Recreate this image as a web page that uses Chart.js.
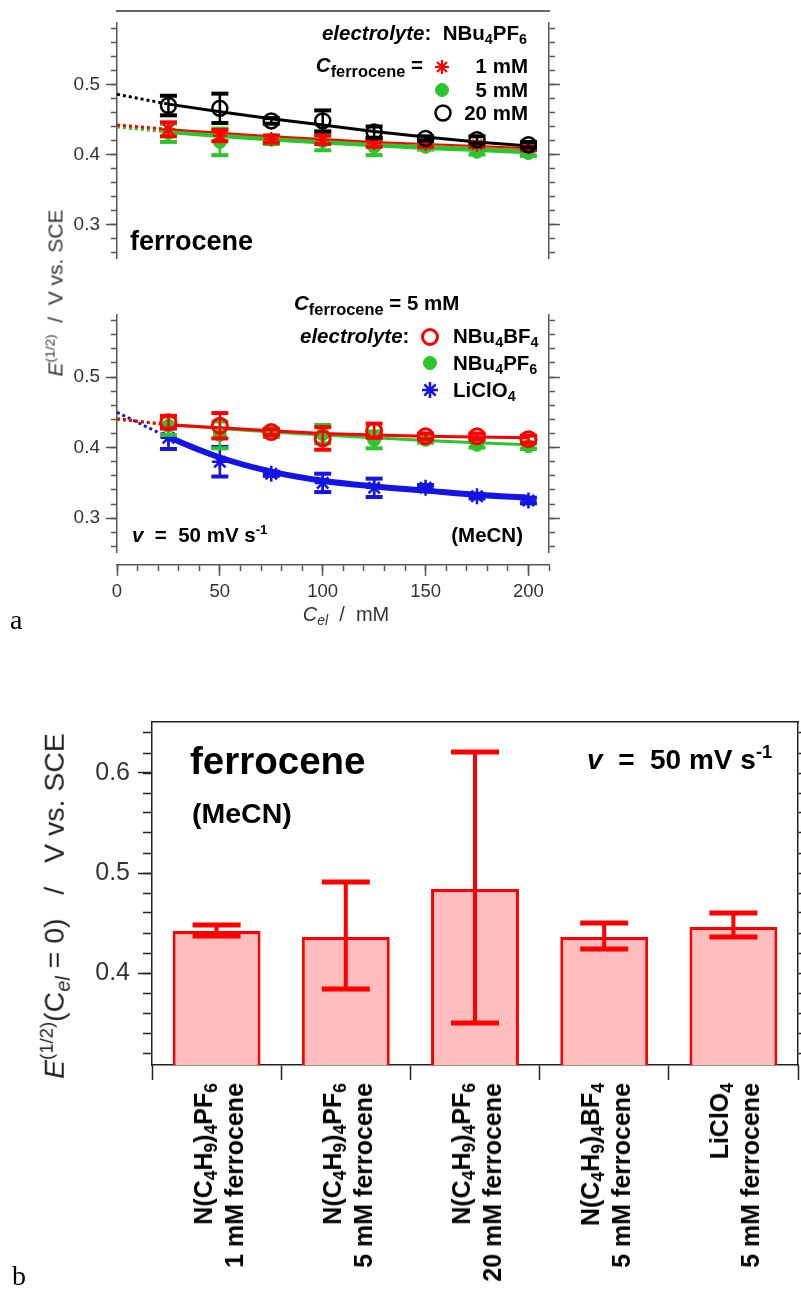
<!DOCTYPE html>
<html>
<head>
<meta charset="utf-8">
<title>Ferrocene half-wave potentials</title>
<script src="https://cdn.jsdelivr.net/npm/chart.js@4.4.1/dist/chart.umd.min.js"></script>
<style>
  body { margin: 0; background: #fff; }
  #figure { position: relative; width: 801px; height: 1289px; overflow: hidden;
            font-family: "Liberation Sans", Arial, sans-serif; }
  #figure canvas { position: absolute; }
  .txt { position: absolute; white-space: nowrap; line-height: 1; color: #000; font-weight: bold; }
  .txt sub { font-size: 70%; vertical-align: -0.28em; line-height: 0; }
  .txt sup { font-size: 65%; vertical-align: 0.6em; line-height: 0; }
  .txt sub.big { font-size: 80%; }
  .cat { text-align: right; line-height: 31px; transform-origin: 0 0; }
</style>
</head>
<body>
<div id="figure">
  <canvas id="panel-a-top" width="560" height="275" style="left:0;top:0"></canvas>
  <canvas id="panel-a-bottom" width="560" height="345" style="left:0;top:290px"></canvas>
  <canvas id="panel-b" width="801" height="589" style="left:0;top:700px"></canvas>
</div>
<script>
// ---------- Panel a: E(1/2) vs electrolyte concentration ----------
const celValues = [25, 50, 75, 100, 125, 150, 175, 200];      // C_el / mM
const fitCel = [0, 25, 50, 75, 100, 125, 150, 175, 200];       // fit curves incl. extrapolation to 0

// top: NBu4PF6 electrolyte, 1 / 5 / 20 mM ferrocene
const pf6Fc1 = [0.436, 0.427, 0.422, 0.421, 0.416, 0.415, 0.414, 0.410];
const pf6Fc1Err = [0.010, 0.008, 0.005, 0.006, 0.005, 0.004, 0.003, 0.004];
const pf6Fc5 = [0.431, 0.418, 0.421, 0.419, 0.411, 0.411, 0.404, 0.402];
const pf6Fc5Err = [0.013, 0.019, 0.006, 0.013, 0.012, 0.004, 0.004, 0.004];
const pf6Fc20 = [0.470, 0.466, 0.448, 0.448, 0.432, 0.423, 0.421, 0.414];
const pf6Fc20Err = [0.014, 0.021, 0.004, 0.015, 0.008, 0.003, 0.005, 0.004];
const pf6Fc1Fit = [0.442, 0.436, 0.431, 0.426, 0.422, 0.418, 0.415, 0.412, 0.409];
const pf6Fc5Fit = [0.440, 0.433, 0.427, 0.422, 0.418, 0.414, 0.410, 0.407, 0.404];
const pf6Fc20Fit = [0.486, 0.472, 0.461, 0.451, 0.442, 0.433, 0.425, 0.418, 0.412];

// bottom: 5 mM ferrocene, NBu4BF4 / NBu4PF6 / LiClO4
const bf4Fc5 = [0.436, 0.431, 0.422, 0.413, 0.424, 0.416, 0.416, 0.412];
const bf4Fc5Err = [0.009, 0.018, 0.004, 0.016, 0.010, 0.004, 0.004, 0.005];
const clo4Fc5 = [0.414, 0.380, 0.363, 0.350, 0.343, 0.343, 0.331, 0.325];
const clo4Fc5Err = [0.016, 0.021, 0.003, 0.013, 0.013, 0.004, 0.003, 0.004];
const bf4Fc5Fit = [0.441, 0.432, 0.428, 0.424, 0.420, 0.418, 0.416, 0.415, 0.414];
const clo4Fc5Fit = [0.450, 0.415, 0.386, 0.366, 0.353, 0.345, 0.339, 0.333, 0.329];

// ---------- Panel b: extrapolated E(1/2) at C_el = 0 ----------
const barElectrolytes = [
    'N(C<sub>4</sub>H<sub>9</sub>)<sub>4</sub>PF<sub>6</sub>',
    'N(C<sub>4</sub>H<sub>9</sub>)<sub>4</sub>PF<sub>6</sub>',
    'N(C<sub>4</sub>H<sub>9</sub>)<sub>4</sub>PF<sub>6</sub>',
    'N(C<sub>4</sub>H<sub>9</sub>)<sub>4</sub>BF<sub>4</sub>',
    'LiClO<sub>4</sub>'
];
const barFerrocene = ['1 mM ferrocene', '5 mM ferrocene', '20 mM ferrocene', '5 mM ferrocene', '5 mM ferrocene'];
const barE0 = [0.442, 0.436, 0.484, 0.436, 0.446];
const barE0Low = [0.437, 0.384, 0.350, 0.424, 0.436];
const barE0High = [0.448, 0.491, 0.621, 0.450, 0.460];

// axis ranges
const X_MAX = 210;
const YA_MIN = 0.252, YA_MAX = 0.588;
const YB_MIN = 0.308, YB_MAX = 0.651;

// colours / fonts
const RED = '#ff0000';
const GREEN = '#2cc62c';
const BLUE = '#1414e6';
const BLACK = '#000000';
const AXIS = '#555555';
const FRAME = '#222222';
const FONT = '"Liberation Sans", Arial, sans-serif';
const SERIF = '"Liberation Serif", "Times New Roman", serif';
const FIG_W = 801;

/**
 * Draws vertical error bars for datasets that carry an errorBars object
 */
const errorBarPlugin = {
    id: 'errorBars',
    afterDatasetDraw(chart, args) {
        const ds = chart.data.datasets[args.index];
        if (!ds.errorBars) return;
        const eb = ds.errorBars;
        const yScale = chart.scales[args.meta.yAxisID];
        const ctx = chart.ctx;
        ctx.save();
        ctx.strokeStyle = eb.color;
        args.meta.data.forEach((el, i) => {
            const yLo = yScale.getPixelForValue(eb.lo[i]);
            const yHi = yScale.getPixelForValue(eb.hi[i]);
            ctx.lineWidth = eb.lineWidth;
            ctx.beginPath();
            ctx.moveTo(el.x, yLo);
            ctx.lineTo(el.x, yHi);
            ctx.stroke();
            ctx.lineWidth = eb.capLineWidth;
            [yLo, yHi].forEach(y => {
                ctx.beginPath();
                ctx.moveTo(el.x - eb.capWidth / 2, y);
                ctx.lineTo(el.x + eb.capWidth / 2, y);
                ctx.stroke();
            });
        });
        ctx.restore();
    }
};

/**
 * Draws legend symbols using the point style of the referenced dataset
 */
const legendSymbolPlugin = {
    id: 'legendSymbols',
    afterDraw(chart, args, opts) {
        const ctx = chart.ctx;
        (opts.items || []).forEach(item => {
            const ds = chart.data.datasets.find(d => d.label === item.label);
            if (!ds) return;
            ctx.save();
            ctx.fillStyle = ds.pointBackgroundColor;
            ctx.strokeStyle = ds.pointBorderColor;
            ctx.lineWidth = ds.pointBorderWidth;
            Chart.helpers.drawPoint(ctx, {
                pointStyle: ds.pointStyle,
                radius: ds.pointRadius,
                borderWidth: ds.pointBorderWidth,
                rotation: 0
            }, item.x, item.y);
            ctx.restore();
        });
    }
};

/**
 * Axis that only draws tick marks (major or minor), sized to a fixed box
 */
function tickAxis(position, min, max, step, len, size, weight, more) {
    const axis = {
        type: 'linear', position, min, max, weight,
        ticks: { display: false, stepSize: step, includeBounds: false },
        grid: { drawOnChartArea: false, tickLength: len, tickColor: AXIS, tickWidth: 1.5 },
        border: { display: false },
        afterFit: s => { if (s.isHorizontal()) s.height = size; else s.width = size; }
    };
    if (more) {
        if (more.ticks) Object.assign(axis.ticks, more.ticks);
        if (more.grid) Object.assign(axis.grid, more.grid);
        if (more.border) Object.assign(axis.border, more.border);
    }
    return axis;
}

/**
 * Empty horizontal axis used as a gap or as a plain line
 */
function spacerAxis(position, size, weight, border) {
    return {
        type: 'linear', position, weight,
        grid: { display: false },
        ticks: { display: false },
        border: border || { display: false },
        afterFit: s => { s.height = size; }
    };
}

function verticalAxesA() {
    return {
        y: tickAxis('left', YA_MIN, YA_MAX, 0.02, 6, 0, 0, { border: { display: true, color: AXIS, width: 1.5 } }),
        yMajor: tickAxis('left', YA_MIN, YA_MAX, 0.1, 11, 117, 1, {
            ticks: { display: true, padding: 6, color: '#333', font: { family: FONT, size: 19, lineHeight: 1 },
                     callback: v => v.toFixed(1) }
        }),
        yRight: tickAxis('right', YA_MIN, YA_MAX, 0.02, 6, 0, 0, { border: { display: true, color: AXIS, width: 1.5 } }),
        yRightMajor: tickAxis('right', YA_MIN, YA_MAX, 0.1, 11, 11, 1)
    };
}

function points(xs, ys) {
    return xs.map((x, i) => ({ x, y: ys[i] }));
}

function markerSet(label, values, err, color, style, order, extra) {
    return Object.assign({
        label,
        data: points(celValues, values),
        showLine: false,
        order,
        pointStyle: style,
        pointRadius: 7,
        pointBorderWidth: 2.5,
        pointBackgroundColor: color,
        pointBorderColor: color,
        errorBars: {
            lo: values.map((v, i) => v - err[i]),
            hi: values.map((v, i) => v + err[i]),
            color, capWidth: 17, lineWidth: 2.5, capLineWidth: 4
        }
    }, extra);
}

function fitSet(label, values, color, width, dotWidth, order, extra) {
    return Object.assign({
        label,
        data: points(fitCel, values),
        borderColor: color,
        borderWidth: width,
        pointRadius: 0,
        order,
        segment: {
            borderDash: c => c.p0DataIndex === 0 ? [3, 3] : undefined,
            borderWidth: c => c.p0DataIndex === 0 ? dotWidth : undefined
        }
    }, extra);
}

function baseOptions(scales, padding, legendItems) {
    return {
        responsive: false,
        animation: false,
        events: [],
        layout: { padding },
        scales,
        plugins: {
            legend: { display: false },
            tooltip: { enabled: false },
            legendSymbols: { items: legendItems || [] }
        }
    };
}

// ---------- Panel a, top ----------
const topChart = new Chart(document.getElementById('panel-a-top'), {
    type: 'line',
    data: {
        datasets: [
            fitSet('fit 5 mM', pf6Fc5Fit, GREEN, 5, 4, 9),
            fitSet('fit 1 mM', pf6Fc1Fit, RED, 2, 3, 8),
            fitSet('fit 20 mM', pf6Fc20Fit, BLACK, 3, 3, 7),
            markerSet('5 mM', pf6Fc5, pf6Fc5Err, GREEN, 'circle', 3, { pointRadius: 6.5, pointBorderWidth: 1 }),
            markerSet('1 mM', pf6Fc1, pf6Fc1Err, RED, 'star', 2, { pointBorderWidth: 2.2 }),
            markerSet('20 mM', pf6Fc20, pf6Fc20Err, BLACK, 'circle', 1, { pointBackgroundColor: 'rgba(0,0,0,0)', pointRadius: 7.5 })
        ]
    },
    options: baseOptions(Object.assign({
        x: { type: 'linear', min: 0, max: X_MAX, display: false },
        topGap: spacerAxis('top', 12, 0),
        topLine: spacerAxis('top', 0, 1, { display: true, color: '#666', width: 2 })
    }, verticalAxesA()), { top: 11, bottom: 17, left: 0, right: 0 }, [
        { label: '1 mM', x: 442, y: 67 },
        { label: '5 mM', x: 442, y: 90 },
        { label: '20 mM', x: 443, y: 113 }
    ]),
    plugins: [errorBarPlugin, legendSymbolPlugin]
});

// ---------- Panel a, bottom ----------
const bottomChart = new Chart(document.getElementById('panel-a-bottom'), {
    type: 'line',
    data: {
        datasets: [
            fitSet('fit LiClO4', clo4Fc5Fit, BLUE, 6, 3, 9, { cubicInterpolationMode: 'monotone' }),
            fitSet('fit NBu4PF6', pf6Fc5Fit, GREEN, 3, 3, 8),
            fitSet('fit NBu4BF4', bf4Fc5Fit, RED, 3, 3, 7),
            markerSet('LiClO4', clo4Fc5, clo4Fc5Err, BLUE, 'star', 3, { pointRadius: 8, pointBorderWidth: 2.5 }),
            markerSet('NBu4PF6', pf6Fc5, pf6Fc5Err, GREEN, 'circle', 2, { pointRadius: 6.5, pointBorderWidth: 1 }),
            markerSet('NBu4BF4', bf4Fc5, bf4Fc5Err, RED, 'circle', 1, { pointBackgroundColor: 'rgba(0,0,0,0)', pointBorderWidth: 3, pointRadius: 7.5 })
        ]
    },
    options: baseOptions(Object.assign({
        x: tickAxis('bottom', 0, X_MAX, 10, 6, 0, 1, { border: { display: true, color: AXIS, width: 1.5 } }),
        xMajor: tickAxis('bottom', 0, X_MAX, 50, 11, 70, 2, {
            ticks: { display: true, padding: 5, color: '#333', font: { family: FONT, size: 18.5 } }
        }),
        xGap: spacerAxis('bottom', 13, 0)
    }, verticalAxesA()), { top: 25, bottom: 0, left: 0, right: 0 }, [
        { label: 'NBu4BF4', x: 430, y: 47 },
        { label: 'NBu4PF6', x: 430, y: 73 },
        { label: 'LiClO4', x: 430, y: 100 }
    ]),
    plugins: [errorBarPlugin, legendSymbolPlugin]
});

// ---------- Panel b ----------
const barLabels = barElectrolytes.map((e, i) => e.replace(/<[^>]+>/g, '') + ' ' + barFerrocene[i]);

const barChart = new Chart(document.getElementById('panel-b'), {
    type: 'bar',
    data: {
        labels: barLabels,
        datasets: [{
            label: 'E(1/2)(Cel = 0)',
            data: barE0,
            backgroundColor: '#ffbdbd',
            borderColor: RED,
            borderWidth: 3,
            barPercentage: 0.68,
            categoryPercentage: 1,
            errorBars: { lo: barE0Low, hi: barE0High, color: RED, capWidth: 48, lineWidth: 4, capLineWidth: 5 }
        }]
    },
    options: baseOptions({
        x: {
            type: 'category',
            position: 'bottom',
            ticks: { display: false },
            grid: { offset: true, drawOnChartArea: false, tickLength: 15, tickColor: FRAME, tickWidth: 1.5 },
            border: { display: true, color: FRAME, width: 1.5 },
            afterFit: s => { s.height = 224; }
        },
        frameTop: spacerAxis('top', 0, 0, { display: true, color: FRAME, width: 1.5 }),
        y: {
            type: 'linear', position: 'left', min: YB_MIN, max: YB_MAX, weight: 0,
            ticks: { display: false, stepSize: 0.02, includeBounds: false },
            grid: { drawOnChartArea: false, tickLength: 9, tickColor: FRAME, tickWidth: 1.5 },
            border: { display: true, color: FRAME, width: 1.5 },
            afterFit: s => { s.width = 0; }
        },
        yMajor: {
            type: 'linear', position: 'left', min: YB_MIN, max: YB_MAX, weight: 1,
            ticks: { stepSize: 0.1, includeBounds: false, padding: 8, color: '#333',
                     font: { family: FONT, size: 25, lineHeight: 1 }, callback: v => v.toFixed(1) },
            grid: { drawOnChartArea: false, tickLength: 14, tickColor: FRAME, tickWidth: 1.5 },
            border: { display: false },
            afterFit: s => { s.width = 152; }
        },
        yRight: {
            type: 'linear', position: 'right', min: YB_MIN, max: YB_MAX, weight: 0,
            ticks: { display: false, stepSize: 0.02, includeBounds: false },
            grid: { drawOnChartArea: false, tickLength: 3, tickColor: FRAME, tickWidth: 1.5 },
            border: { display: true, color: FRAME, width: 1.5 },
            afterFit: s => { s.width = 3; }
        }
    }, { top: 22, bottom: 0, left: 0, right: 0 }),
    plugins: [errorBarPlugin]
});

// ---------- Text (HTML so that sub/superscripts are real text) ----------
const fig = document.getElementById('figure');

function addText(html, x, base, size, opt = {}) {
    const el = document.createElement('div');
    el.className = 'txt';
    el.innerHTML = html;
    el.style.fontSize = size + 'px';
    el.style.top = (base - 0.85 * size) + 'px';
    if (opt.align === 'right') {
        el.style.right = (FIG_W - x) + 'px';
    } else if (opt.align === 'center') {
        el.style.left = x + 'px';
        el.style.transform = 'translateX(-50%)';
    } else {
        el.style.left = x + 'px';
    }
    if (opt.weight) el.style.fontWeight = opt.weight;
    if (opt.color) el.style.color = opt.color;
    if (opt.family) el.style.fontFamily = opt.family;
    fig.appendChild(el);
    return el;
}

function addVerticalText(html, cx, cy, size, opt = {}) {
    const el = addText(html, cx, 0, size, opt);
    el.style.left = cx + 'px';
    el.style.top = cy + 'px';
    el.style.transform = 'translate(-50%, -50%) rotate(-90deg)';
    return el;
}

const SUB_FC = '<i>C</i><sub class="big">ferrocene</sub>';

// panel a, top
addText('<i>electrolyte</i>:&nbsp; NBu<sub>4</sub>PF<sub>6</sub>', 527, 40, 20.5, { align: 'right' });
addText(SUB_FC + ' =', 423, 72, 20.5, { align: 'right' });
addText('1 mM', 528, 73, 20.5, { align: 'right' });
addText('5 mM', 528, 97, 20.5, { align: 'right' });
addText('20 mM', 528, 120, 20.5, { align: 'right' });
addText('ferrocene', 130, 251, 27);

// panel a, bottom
addText(SUB_FC + ' = 5 mM', 294, 310, 20.5);
addText('<i>electrolyte</i>:', 300, 343, 20.5);
addText('NBu<sub>4</sub>BF<sub>4</sub>', 453, 343, 20.5);
addText('NBu<sub>4</sub>PF<sub>6</sub>', 453, 370, 20.5);
addText('LiClO<sub>4</sub>', 453, 397, 20.5);
addText('<i>v</i>&nbsp; =&nbsp; 50 mV s<sup>-1</sup>', 132, 542, 20.5);
addText('(MeCN)', 523, 542, 20.5, { align: 'right' });
addText('<i>C<sub>el</sub></i>&nbsp; /&nbsp; mM', 346, 621, 20, { align: 'center', weight: 'normal', color: '#333' });
addVerticalText('<i>E</i><sup>(1/2)</sup>&nbsp; /&nbsp; V vs. SCE', 55, 293, 21, { weight: 'normal', color: '#333' });
addText('a', 10, 630, 28, { weight: 'normal', family: SERIF });

// panel b
addText('ferrocene', 190, 775, 38.5);
addText('(MeCN)', 192, 823, 28.5);
addText('<i>v</i>&nbsp; =&nbsp; 50 mV s<sup>-1</sup>', 587, 770, 28);
addVerticalText('<i>E</i><sup>(1/2)</sup>(C<sub><i>el</i></sub> = 0)&nbsp;&nbsp; /&nbsp;&nbsp; V vs. SCE', 54, 906, 28.5,
    { weight: 'normal', color: '#222' });
addText('b', 12, 1286, 28, { weight: 'normal', family: SERIF });

// category labels, rotated, placed at the bar scale's category centres
const barCanvasTop = 700;
const xScaleB = barChart.scales.x;
barElectrolytes.forEach((electrolyte, i) => {
    const cx = xScaleB.getPixelForValue(i) + 2;
    const el = addText(electrolyte + '<br>' + barFerrocene[i], cx, 0, 25);
    el.classList.add('cat');
    el.style.left = cx + 'px';
    el.style.top = (barCanvasTop + xScaleB.top + 18) + 'px';
    el.style.transform = 'rotate(-90deg) translate(-100%, -50%)';
});
</script>
</body>
</html>
